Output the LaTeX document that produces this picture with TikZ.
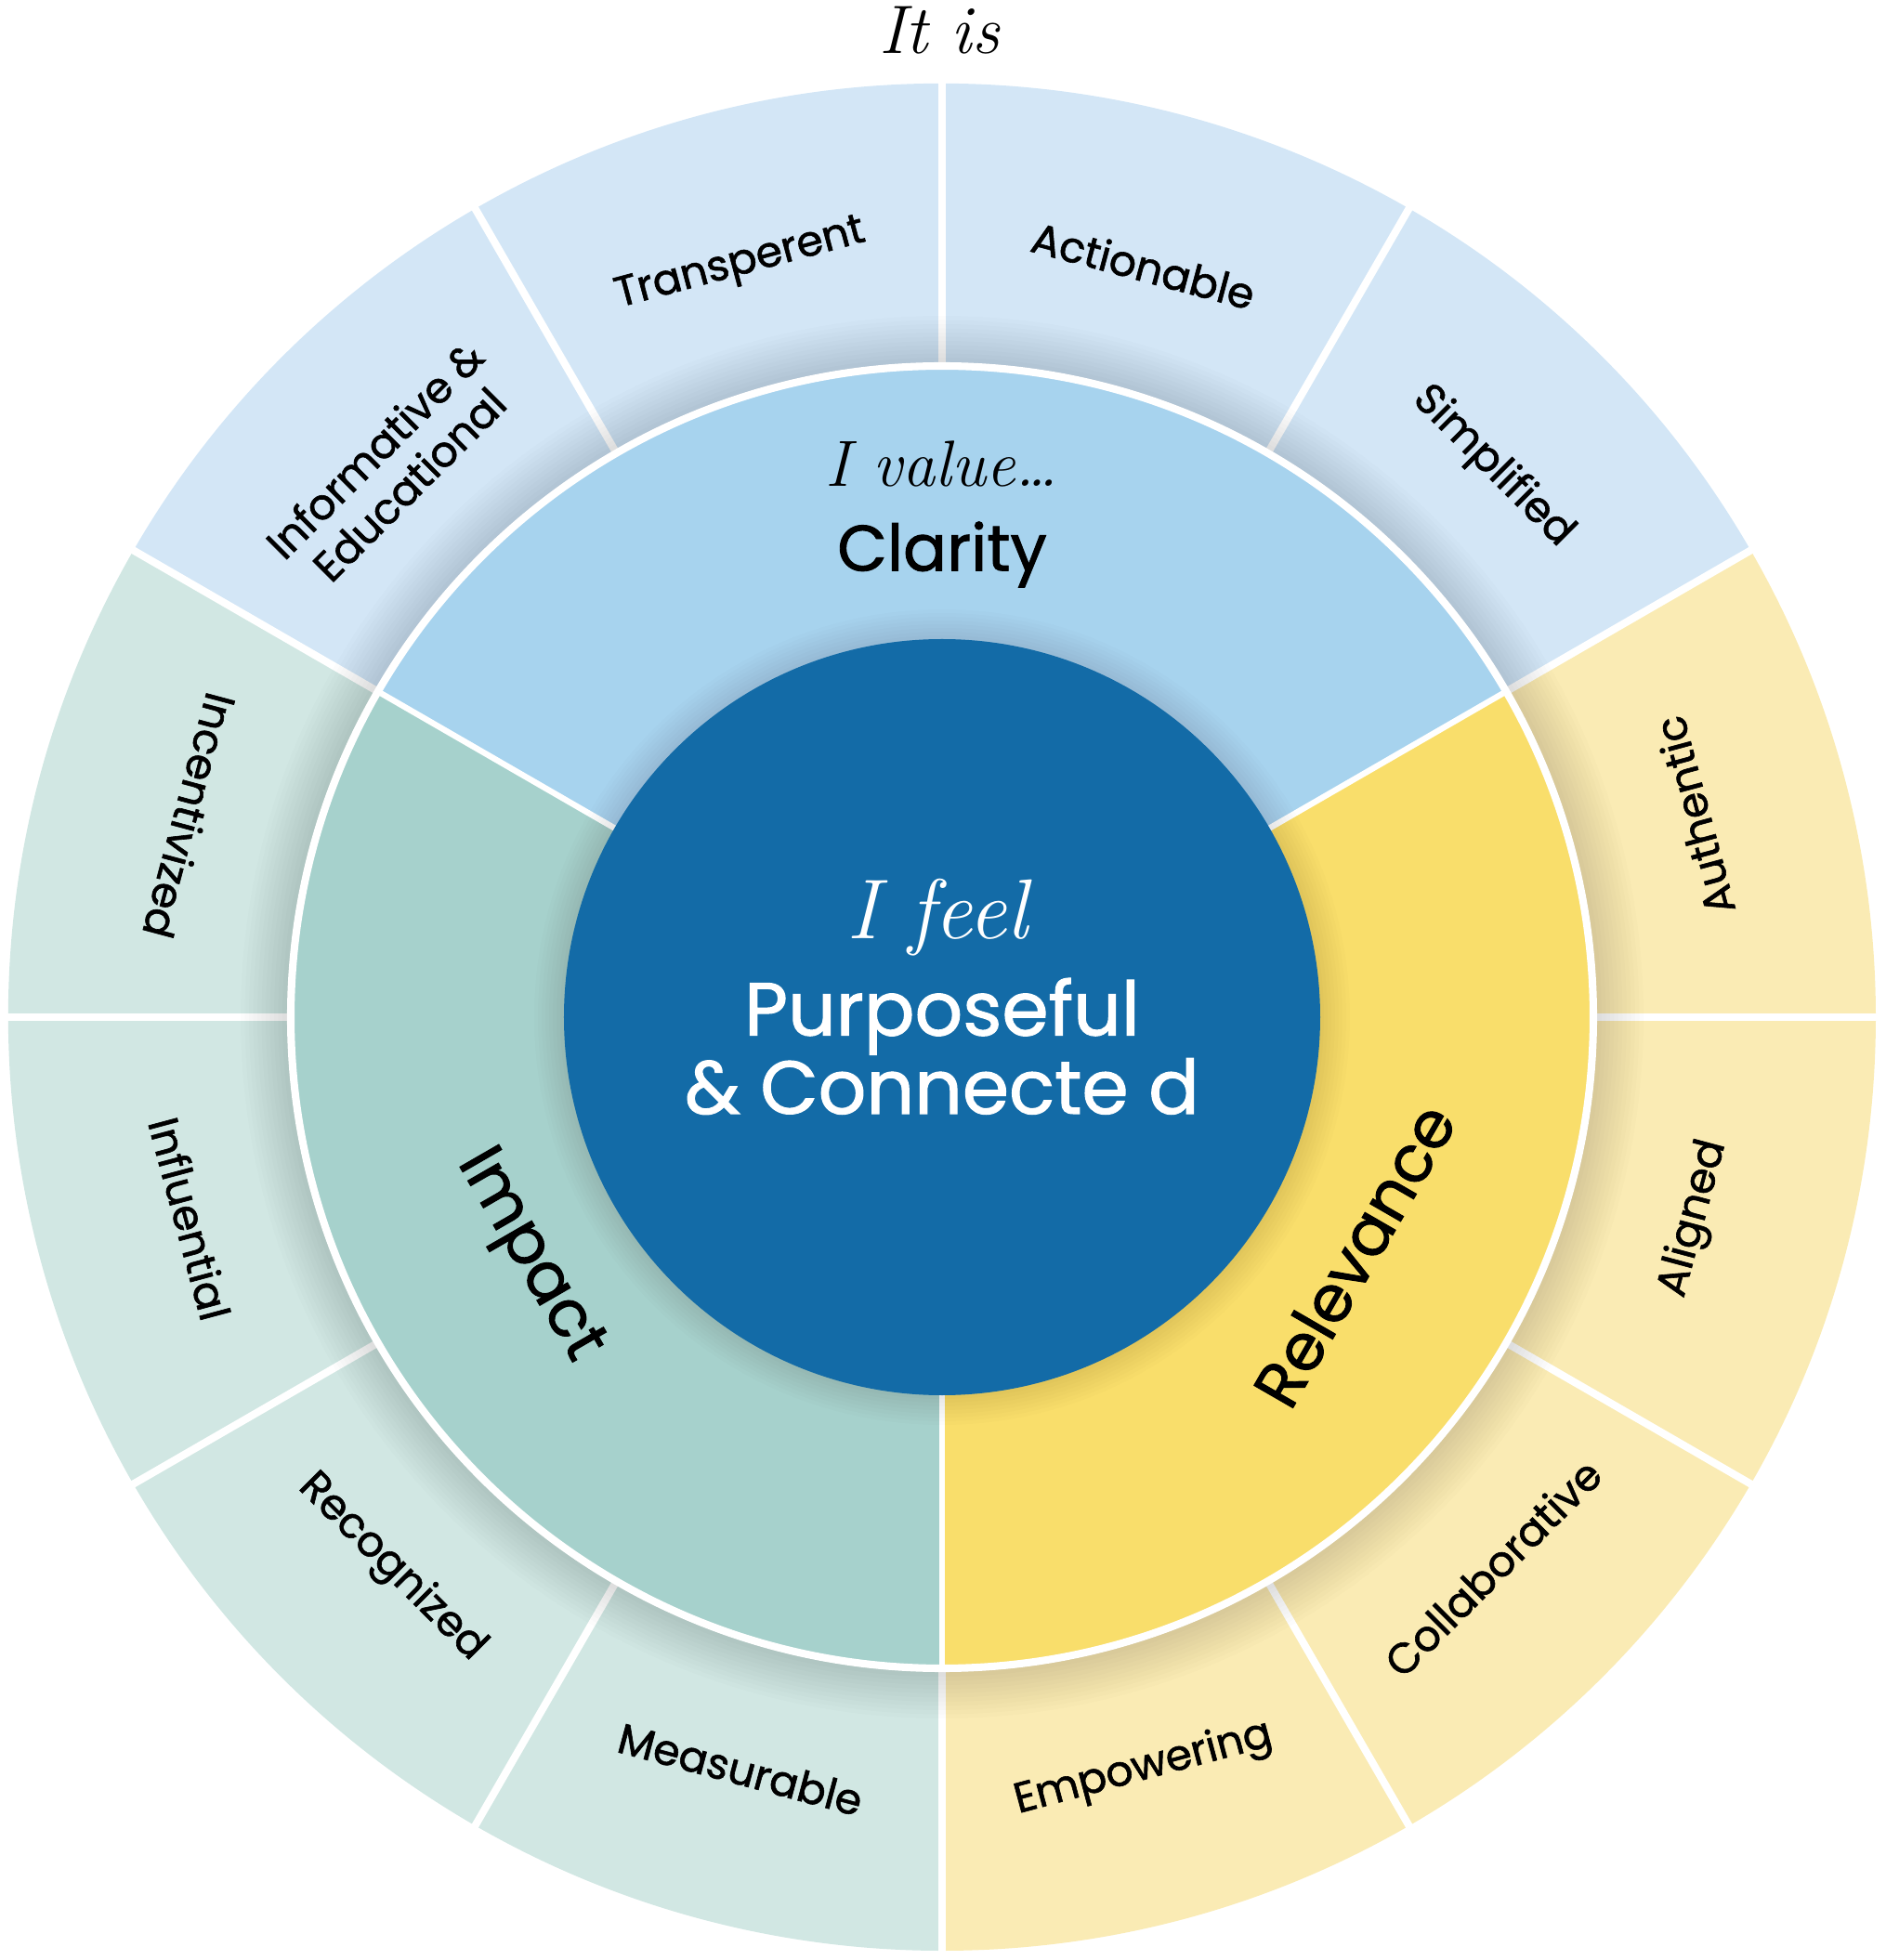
\documentclass[tikz,border=0pt]{standalone}
\usepackage{fontspec}
\newfontfamily\labelfont{Poppins}[FakeBold=1.3]
\definecolor{centreblue}{HTML}{136BA7}
\definecolor{midblue}{HTML}{A7D3EE}
\definecolor{midyellow}{HTML}{F9DE6B}
\definecolor{midteal}{HTML}{A6D1CC}
\definecolor{paleblue}{HTML}{D3E6F6}
\definecolor{paleyellow}{HTML}{FAEBB4}
\definecolor{paleteal}{HTML}{D1E7E3}

\begin{document}
\begin{tikzpicture}[
  lbl/.style={font=\labelfont\fontsize{13}{15}\selectfont, align=center, inner sep=0pt},
  big/.style={font=\labelfont\fontsize{19.8}{23}\selectfont, inner sep=0pt},
  hand/.style={font=\itshape\fontsize{21}{24}\selectfont, inner sep=0pt},
  sep/.style={white, line width=2.3pt}
]
  \useasboundingbox (-10.14,-10.15) rectangle (10.15,10.95);
  \coordinate (O) at (0,0);
  % outer ring
  \fill[paleblue] (O) -- (30:10.05) arc[start angle=30, end angle=150, radius=10.05] -- cycle;
  \fill[paleyellow] (O) -- (-90:10.05) arc[start angle=-90, end angle=30, radius=10.05] -- cycle;
  \fill[paleteal] (O) -- (150:10.05) arc[start angle=150, end angle=270, radius=10.05] -- cycle;
  \foreach \a in {0,30,...,330}
    \draw[sep] (O) -- (\a:10.1);
  % shadow of middle ring
  \foreach \i in {1,...,12}
    \fill[black, opacity=0.011] (O) circle ({7.01+0.045*\i});
  % middle ring
  \fill[midblue] (O) -- (30:7.03) arc[start angle=30, end angle=150, radius=7.03] -- cycle;
  \fill[midyellow] (O) -- (-90:7.03) arc[start angle=-90, end angle=30, radius=7.03] -- cycle;
  \fill[midteal] (O) -- (150:7.03) arc[start angle=150, end angle=270, radius=7.03] -- cycle;
  \draw[sep] (O) circle (7.01);
  \foreach \a in {30,150,270}
    \draw[white, line width=1.8pt] (O) -- (\a:7);
  % shadow of centre
  \foreach \i in {1,...,8}
    \fill[black, opacity=0.012] (O) circle ({4.07+0.04*\i});
  \fill[centreblue] (O) circle (4.07);

  \node[hand, anchor=north] (itis) at (-0.03,10.89) {It is};
  \node[hand, font=\itshape\fontsize{20}{23}\selectfont] (ivalue) at (0,5.96) {I value\ldots};
  \node[big] (clarity) at (0,4.98) {Clarity};
  \node[big, rotate=60] (relevance) at (-30:5.12) {Relevance};
  \node[big, rotate=-60] (impact) at (210:5.15) {Impact};
  \node[hand, font=\itshape\fontsize{26}{29}\selectfont, text=white] (ifeel) at (-0.05,1.07) {I feel};
  \node[font=\labelfont\fontsize{23}{21.9}\selectfont, text=white, align=center, anchor=base, inner sep=0pt]
    (purpose) at (0,-1.04) {Purposeful\\\& Connecte d};

  % outer labels
  \foreach \a/\r/\nm/\txt in {105/15/transp/Transperent, 75/-15/action/Actionable,
      45/-45/simple/Simplified, 15/105/authentic/Authentic, -15/75/aligned/Aligned,
      -45/45/collab/Collaborative, -75/15/empower/Empowering, -105/-15/measure/Measurable,
      -135/-45/recog/Recognized, -165/-75/influ/Influential, 165/-105/incent/Incentivized,
      135/45/inform/{Informative \&\\Educational}}
    \node[lbl, rotate=\r] (\nm) at (\a:8.38) {\txt};
\end{tikzpicture}
\end{document}
